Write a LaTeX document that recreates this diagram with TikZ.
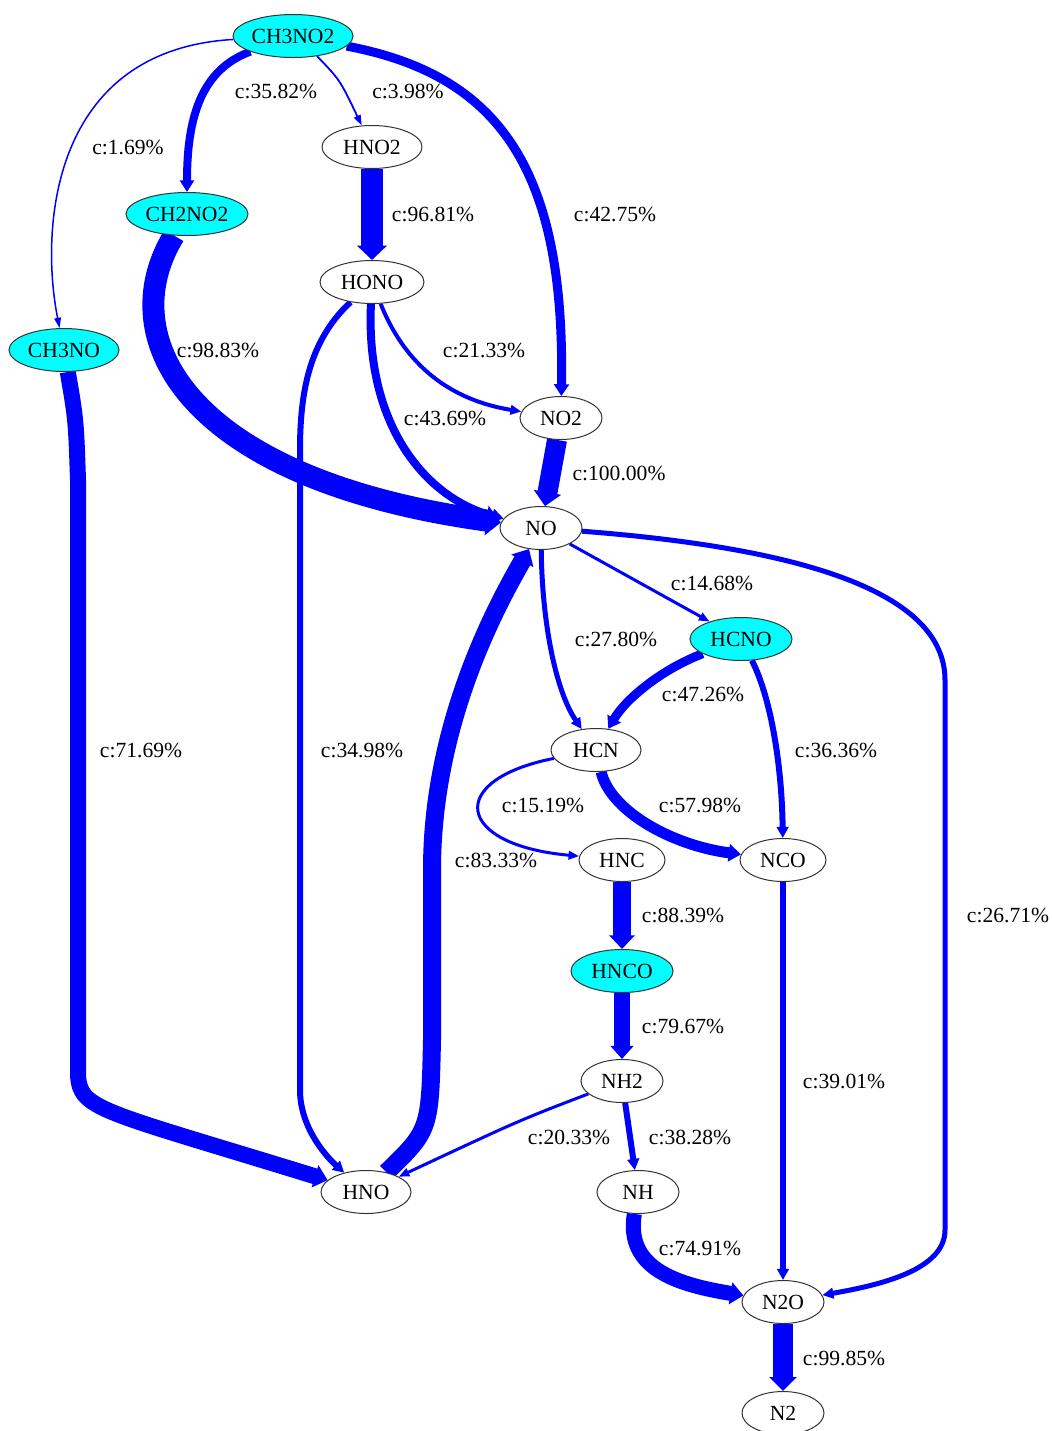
\documentclass[tikz,border=0pt]{standalone}
\usepackage{fontspec}
\setmainfont{Liberation Serif}
\usetikzlibrary{shapes.geometric,arrows.meta,backgrounds}
\definecolor{aqua}{RGB}{0,255,255}
\definecolor{fluxblue}{RGB}{0,0,255}

\begin{document}
\begin{tikzpicture}[
    x=0.5pt, y=-0.5pt,
    font=\fontsize{10.8}{12}\selectfont,
    species/.style={ellipse, draw=black!80, line width=0.5pt, fill=white, minimum width=41pt, minimum height=21.5pt, inner xsep=0pt, inner ysep=1pt},
    radical/.style={species, fill=aqua},
    flux/.style={draw=fluxblue, line width=#1, -{Triangle[length=5pt 0.2, width=2.5pt 1.1]}},
    pct/.style={inner sep=0pt}
]
\useasboundingbox (0,0) rectangle (1052,1431);

% Species
\node[radical, minimum width=60pt] (ch3no2) at (293,36) {CH3NO2};
\node[species, minimum width=50pt] (hno2) at (372,147) {HNO2};
\node[radical, minimum width=61pt] (ch2no2) at (187,214) {CH2NO2};
\node[species, minimum width=52pt] (hono) at (372,282) {HONO};
\node[radical, minimum width=55pt] (ch3no) at (64,350) {CH3NO};
\node[species] (no2) at (561,418) {NO2};
\node[species] (no) at (541,528) {NO};
\node[radical, minimum width=51pt] (hcno) at (741,639) {HCNO};
\node[species, minimum width=45pt] (hcn) at (596,750) {HCN};
\node[species, minimum width=43pt] (hnc) at (622,860) {HNC};
\node[species, minimum width=43pt] (nco) at (783,860) {NCO};
\node[radical, minimum width=51pt] (hnco) at (622,971) {HNCO};
\node[species] (nh2) at (622,1081) {NH2};
\node[species, minimum width=45pt] (hno) at (366,1192) {HNO};
\node[species] (nh) at (638,1192) {NH};
\node[species] (n2o) at (783,1302) {N2O};
\node[species] (n2) at (783,1413) {N2};

% Fluxes
\begin{scope}[on background layer]
\draw[flux=0.75pt] (ch3no2) .. controls (50,50) and (40,230) .. (ch3no);
\draw[flux=4pt] (ch3no2) .. controls (200,70) and (187,120) .. (ch2no2);
\draw[flux=0.9pt] (ch3no2.-40) .. controls (340,80) .. (hno2);
\draw[flux=4.5pt] (ch3no2) .. controls (500,75) and (565,170) .. (no2);
\draw[flux=11pt] (hno2) -- (hono);
\draw[flux=11pt] (ch2no2) .. controls (110,340) and (190,480) .. (no);
\draw[flux=8pt] (ch3no) .. controls (76,420) .. (78,480) -- (78,1075) .. controls (80,1110) and (100,1110) .. (hno);
\draw[flux=2pt] (hono) .. controls (405,365) and (450,400) .. (no2);
\draw[flux=4pt] (hono) .. controls (365,430) and (430,500) .. (no);
\draw[flux=3pt] (hono) .. controls (310,340) and (300,390) .. (300,450) -- (300,1090) .. controls (300,1130) and (330,1160) .. (hno);
\draw[flux=10pt] (no2) -- (no);
\draw[flux=9pt] (hno) .. controls (430,1130) .. (432,1040) -- (432,870) .. controls (432,720) and (500,600) .. (no);
\draw[flux=1.5pt] (no) -- (hcno);
\draw[flux=2.5pt] (no) .. controls (542,620) and (555,690) .. (hcn);
\draw[flux=2.5pt] (no) .. controls (760,545) and (945,580) .. (945,680) -- (945,1230) .. controls (945,1270) and (880,1285) .. (n2o);
\draw[flux=4.5pt] (hcno) .. controls (660,670) and (625,700) .. (hcn);
\draw[flux=3pt] (hcno) .. controls (772,700) and (782,770) .. (nco);
\draw[flux=1.5pt] (hcn) .. controls (445,780) and (455,845) .. (hnc);
\draw[flux=5.5pt] (hcn) .. controls (610,810) and (670,845) .. (nco);
\draw[flux=9pt] (hnc) -- (hnco);
\draw[flux=8pt] (hnco) -- (nh2);
\draw[flux=3pt] (nco) -- (n2o);
\draw[flux=1.5pt] (nh2) .. controls (520,1120) .. (hno);
\draw[flux=3pt] (nh2) -- (nh);
\draw[flux=7.5pt] (nh) .. controls (625,1270) and (680,1285) .. (n2o);
\draw[flux=10pt] (n2o) -- (n2);
\end{scope}

% Labels
\node[pct] (c-ch2no2) at (276,91) {c:35.82\%};
\node[pct] (c-hno2) at (408,91) {c:3.98\%};
\node[pct] (c-ch3no) at (128,147) {c:1.69\%};
\node[pct] (c-hono) at (433,214) {c:96.81\%};
\node[pct] (c-no2) at (615,214) {c:42.75\%};
\node[pct] (c-ch2no2-no) at (218,350) {c:98.83\%};
\node[pct] (c-hono-no2) at (484,350) {c:21.33\%};
\node[pct] (c-hono-no) at (445,418) {c:43.69\%};
\node[pct] (c-no) at (619,473) {c:100.00\%};
\node[pct] (c-hcno) at (712,583) {c:14.68\%};
\node[pct] (c-no-hcn) at (616,639) {c:27.80\%};
\node[pct] (c-hcno-hcn) at (703,694) {c:47.26\%};
\node[pct] (c-ch3no-hno) at (141,750) {c:71.69\%};
\node[pct] (c-hono-hno) at (362,750) {c:34.98\%};
\node[pct] (c-hcno-nco) at (836,750) {c:36.36\%};
\node[pct] (c-hnc) at (543,805) {c:15.19\%};
\node[pct] (c-hcn-nco) at (700,805) {c:57.98\%};
\node[pct] (c-hno-no) at (496,860) {c:83.33\%};
\node[pct] (c-hnco) at (683,915) {c:88.39\%};
\node[pct] (c-no-n2o) at (1008,915) {c:26.71\%};
\node[pct] (c-nh2) at (683,1026) {c:79.67\%};
\node[pct] (c-nco-n2o) at (844,1081) {c:39.01\%};
\node[pct] (c-nh2-hno) at (569,1137) {c:20.33\%};
\node[pct] (c-nh) at (690,1137) {c:38.28\%};
\node[pct] (c-nh-n2o) at (700,1248) {c:74.91\%};
\node[pct] (c-n2) at (844,1358) {c:99.85\%};

\end{tikzpicture}
\end{document}
